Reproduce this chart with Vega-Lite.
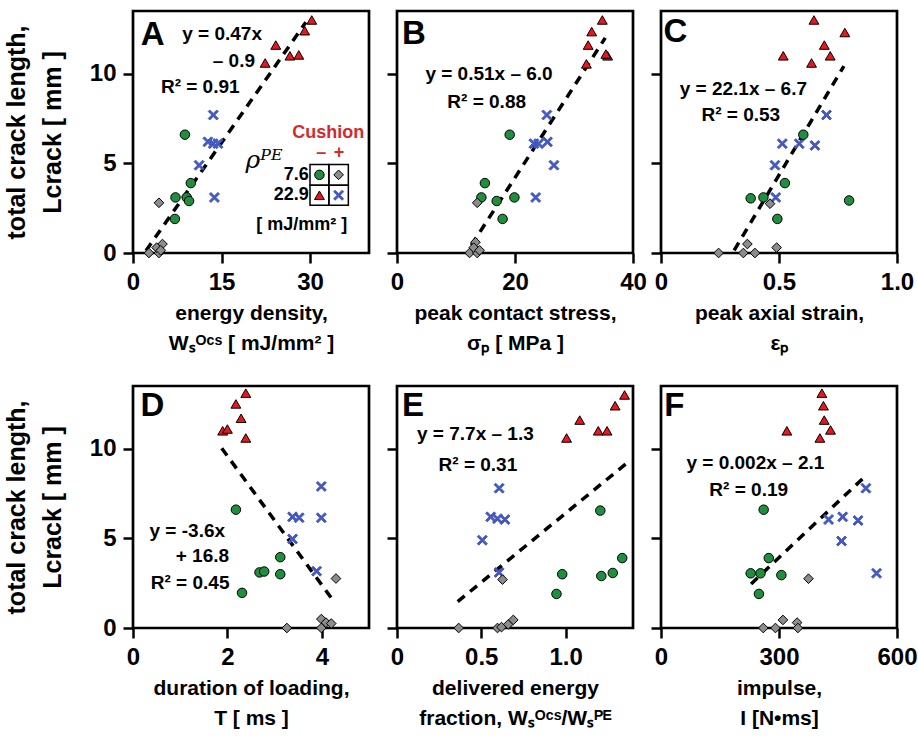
{
"$schema": "https://vega.github.io/schema/vega-lite/v6.json",
"background": "white",
"padding": {"left": 2, "top": 9, "right": 0, "bottom": 0},
"config": {
  "view": {"stroke": "black", "strokeWidth": 2.7},
  "axis": {"domain": false, "grid": false, "tickColor": "black", "tickWidth": 2.5, "tickSize": 10,
    "labelFont": "Liberation Sans", "labelFontWeight": "bold", "labelFontSize": 24, "labelColor": "black", "labelPadding": 7,
    "labelFlush": false, "labelOverlap": false,
    "titleFont": "Liberation Sans", "titleFontWeight": "bold", "titleFontSize": 21, "titleColor": "black"},
  "axisX": {"titleLineHeight": 30, "titlePadding": 8},
  "axisY": {"titleFontSize": 25, "titleLineHeight": 36, "titlePadding": 24},
  "text": {"font": "Liberation Sans", "fontWeight": "bold", "color": "black"}
},
"datasets": {
  "pts": [
    {"p":"A","g":"r","x":30.3,"L":13.0},{"p":"A","g":"r","x":29.1,"L":12.4},{"p":"A","g":"r","x":24.2,"L":11.6},{"p":"A","g":"r","x":26.6,"L":11.0},{"p":"A","g":"r","x":28.1,"L":11.05},{"p":"A","g":"r","x":22.4,"L":10.6},
    {"p":"A","g":"x","x":13.6,"L":7.7},{"p":"A","g":"x","x":12.7,"L":6.2},{"p":"A","g":"x","x":13.6,"L":6.1},{"p":"A","g":"x","x":14.4,"L":6.1},{"p":"A","g":"x","x":11.2,"L":4.9},{"p":"A","g":"x","x":13.8,"L":3.1},
    {"p":"A","g":"g","x":8.8,"L":6.6},{"p":"A","g":"g","x":9.8,"L":3.9},{"p":"A","g":"g","x":7.2,"L":3.1},{"p":"A","g":"g","x":9.1,"L":3.1},{"p":"A","g":"g","x":9.5,"L":2.9},{"p":"A","g":"g","x":7.1,"L":1.9},
    {"p":"A","g":"d","x":4.4,"L":2.8},{"p":"A","g":"d","x":2.7,"L":0},{"p":"A","g":"d","x":4.4,"L":0},{"p":"A","g":"d","x":5.0,"L":0.5},{"p":"A","g":"d","x":4.0,"L":0.3},{"p":"A","g":"d","x":4.7,"L":0.15},
    {"p":"B","g":"r","x":34.8,"L":13.0},{"p":"B","g":"r","x":33.0,"L":12.35},{"p":"B","g":"r","x":32.4,"L":11.6},{"p":"B","g":"r","x":35.7,"L":11.0},{"p":"B","g":"r","x":35.4,"L":11.1},{"p":"B","g":"r","x":32.1,"L":10.55},
    {"p":"B","g":"x","x":25.4,"L":7.7},{"p":"B","g":"x","x":23.2,"L":6.1},{"p":"B","g":"x","x":25.5,"L":6.2},{"p":"B","g":"x","x":24.0,"L":6.1},{"p":"B","g":"x","x":26.6,"L":4.9},{"p":"B","g":"x","x":23.5,"L":3.1},
    {"p":"B","g":"g","x":19.1,"L":6.6},{"p":"B","g":"g","x":14.9,"L":3.9},{"p":"B","g":"g","x":14.3,"L":3.1},{"p":"B","g":"g","x":16.9,"L":2.9},{"p":"B","g":"g","x":19.9,"L":3.1},{"p":"B","g":"g","x":17.9,"L":1.9},
    {"p":"B","g":"d","x":13.6,"L":2.8},{"p":"B","g":"d","x":12.3,"L":0},{"p":"B","g":"d","x":13.6,"L":0},{"p":"B","g":"d","x":13.3,"L":0.6},{"p":"B","g":"d","x":13.0,"L":0.3},{"p":"B","g":"d","x":14.0,"L":0.15},
    {"p":"C","g":"r","x":0.648,"L":13.0},{"p":"C","g":"r","x":0.779,"L":12.3},{"p":"C","g":"r","x":0.692,"L":11.6},{"p":"C","g":"r","x":0.717,"L":11.0},{"p":"C","g":"r","x":0.518,"L":11.0},{"p":"C","g":"r","x":0.638,"L":10.6},
    {"p":"C","g":"x","x":0.701,"L":7.7},{"p":"C","g":"x","x":0.514,"L":6.1},{"p":"C","g":"x","x":0.586,"L":6.1},{"p":"C","g":"x","x":0.652,"L":6.0},{"p":"C","g":"x","x":0.483,"L":4.9},{"p":"C","g":"x","x":0.486,"L":3.1},
    {"p":"C","g":"g","x":0.603,"L":6.6},{"p":"C","g":"g","x":0.525,"L":3.9},{"p":"C","g":"g","x":0.38,"L":3.05},{"p":"C","g":"g","x":0.434,"L":3.1},{"p":"C","g":"g","x":0.797,"L":2.93},{"p":"C","g":"g","x":0.493,"L":1.9},
    {"p":"C","g":"d","x":0.462,"L":2.75},{"p":"C","g":"d","x":0.244,"L":0},{"p":"C","g":"d","x":0.349,"L":0},{"p":"C","g":"d","x":0.366,"L":0.5},{"p":"C","g":"d","x":0.398,"L":0},{"p":"C","g":"d","x":0.49,"L":0.3},
    {"p":"D","g":"r","x":2.39,"L":13.1},{"p":"D","g":"r","x":2.18,"L":12.5},{"p":"D","g":"r","x":2.29,"L":11.7},{"p":"D","g":"r","x":1.9,"L":11.0},{"p":"D","g":"r","x":2.0,"L":11.1},{"p":"D","g":"r","x":2.39,"L":10.6},
    {"p":"D","g":"x","x":3.99,"L":7.9},{"p":"D","g":"x","x":3.38,"L":6.2},{"p":"D","g":"x","x":3.52,"L":6.15},{"p":"D","g":"x","x":3.99,"L":6.15},{"p":"D","g":"x","x":3.38,"L":4.97},{"p":"D","g":"x","x":3.89,"L":3.17},
    {"p":"D","g":"g","x":2.18,"L":6.6},{"p":"D","g":"g","x":3.12,"L":3.95},{"p":"D","g":"g","x":2.68,"L":3.1},{"p":"D","g":"g","x":2.78,"L":3.15},{"p":"D","g":"g","x":3.12,"L":3.0},{"p":"D","g":"g","x":2.31,"L":1.96},
    {"p":"D","g":"d","x":4.3,"L":2.76},{"p":"D","g":"d","x":3.26,"L":0},{"p":"D","g":"d","x":3.99,"L":0.5},{"p":"D","g":"d","x":3.99,"L":0},{"p":"D","g":"d","x":4.09,"L":0.3},{"p":"D","g":"d","x":4.2,"L":0.25},
    {"p":"E","g":"r","x":1.35,"L":13.0},{"p":"E","g":"r","x":1.294,"L":12.4},{"p":"E","g":"r","x":1.084,"L":11.6},{"p":"E","g":"r","x":1.194,"L":11.0},{"p":"E","g":"r","x":1.246,"L":11.0},{"p":"E","g":"r","x":1.006,"L":10.6},
    {"p":"E","g":"x","x":0.606,"L":7.8},{"p":"E","g":"x","x":0.556,"L":6.2},{"p":"E","g":"x","x":0.596,"L":6.1},{"p":"E","g":"x","x":0.64,"L":6.05},{"p":"E","g":"x","x":0.506,"L":4.9},{"p":"E","g":"x","x":0.606,"L":3.1},
    {"p":"E","g":"g","x":1.206,"L":6.55},{"p":"E","g":"g","x":1.336,"L":3.9},{"p":"E","g":"g","x":0.98,"L":3.0},{"p":"E","g":"g","x":1.212,"L":2.9},{"p":"E","g":"g","x":1.28,"L":3.07},{"p":"E","g":"g","x":0.946,"L":1.9},
    {"p":"E","g":"d","x":0.626,"L":2.7},{"p":"E","g":"d","x":0.366,"L":0},{"p":"E","g":"d","x":0.596,"L":0},{"p":"E","g":"d","x":0.62,"L":0.05},{"p":"E","g":"d","x":0.66,"L":0.2},{"p":"E","g":"d","x":0.69,"L":0.45},
    {"p":"F","g":"r","x":409,"L":13.1},{"p":"F","g":"r","x":413,"L":12.4},{"p":"F","g":"r","x":415,"L":11.6},{"p":"F","g":"r","x":431,"L":11.05},{"p":"F","g":"r","x":320,"L":11.0},{"p":"F","g":"r","x":404,"L":10.6},
    {"p":"F","g":"x","x":521,"L":7.8},{"p":"F","g":"x","x":426,"L":6.05},{"p":"F","g":"x","x":462,"L":6.2},{"p":"F","g":"x","x":501,"L":6.0},{"p":"F","g":"x","x":459,"L":4.85},{"p":"F","g":"x","x":548,"L":3.05},
    {"p":"F","g":"g","x":261,"L":6.6},{"p":"F","g":"g","x":274,"L":3.9},{"p":"F","g":"g","x":228,"L":3.05},{"p":"F","g":"g","x":253,"L":3.05},{"p":"F","g":"g","x":306,"L":2.95},{"p":"F","g":"g","x":249,"L":1.9},
    {"p":"F","g":"d","x":375,"L":2.75},{"p":"F","g":"d","x":260,"L":0},{"p":"F","g":"d","x":291,"L":0},{"p":"F","g":"d","x":310,"L":0.45},{"p":"F","g":"d","x":346,"L":0.3},{"p":"F","g":"d","x":348,"L":0}
  ],
  "fit": [
    {"p":"A","x":2.2,"L":0.13},{"p":"A","x":29.3,"L":12.87},
    {"p":"B","x":12.6,"L":0.43},{"p":"B","x":35.3,"L":12.0},
    {"p":"C","x":0.31,"L":0.15},{"p":"C","x":0.775,"L":10.43},
    {"p":"D","x":1.88,"L":10.03},{"p":"D","x":4.25,"L":1.5},
    {"p":"E","x":0.36,"L":1.47},{"p":"E","x":1.37,"L":9.25},
    {"p":"F","x":229,"L":2.46},{"p":"F","x":518,"L":8.44}
  ],
  "eq": [
    {"p":"A","x":15.1,"L":12.24,"t":"y = 0.47x"},{"p":"A","x":17.1,"L":10.7,"t":"– 0.9"},{"p":"A","x":11.4,"L":9.28,"t":"R² = 0.91"},
    {"p":"B","x":15.6,"L":9.98,"t":"y = 0.51x – 6.0"},{"p":"B","x":15.2,"L":8.44,"t":"R² = 0.88"},
    {"p":"C","x":0.349,"L":9.15,"t":"y = 22.1x – 6.7"},{"p":"C","x":0.338,"L":7.7,"t":"R² = 0.53"},
    {"p":"D","x":1.15,"L":5.4,"t":"y = -3.6x"},{"p":"D","x":1.47,"L":4.0,"t":"+ 16.8"},{"p":"D","x":1.21,"L":2.51,"t":"R² = 0.45"},
    {"p":"E","x":0.465,"L":10.85,"t":"y = 7.7x – 1.3"},{"p":"E","x":0.48,"L":9.07,"t":"R² = 0.31"},
    {"p":"F","x":240,"L":9.22,"t":"y = 0.002x – 2.1"},{"p":"F","x":223,"L":7.69,"t":"R² = 0.19"}
  ],
  "letter": [
    {"p":"A","x":1.3,"L":11.6,"t":"A"},{"p":"B","x":0.86,"L":11.68,"t":"B"},{"p":"C","x":0.011,"L":11.78,"t":"C"},
    {"p":"D","x":0.157,"L":11.82,"t":"D"},{"p":"E","x":0.03,"L":11.82,"t":"E"},{"p":"F","x":8.3,"L":11.82,"t":"F"}
  ]
},
"bounds": "flush",
"columns": 3,
"spacing": {"row": 133, "column": 28},
"concat": [
  {"width": 236, "height": 242,
   "encoding": {
     "x": {"field": "x", "type": "quantitative", "scale": {"domain": [0, 40], "nice": false, "zero": false}, "axis": {"values": [0, 15, 30], "title": ["energy density,", "Wₛᴼᶜˢ [ mJ/mm² ]"]}},
     "y": {"field": "L", "type": "quantitative", "scale": {"domain": [0, 13.5], "nice": false}, "axis": {"values": [0, 5, 10], "title": ["total crack length,", "Lcrack [ mm ]"]}}
   },
   "layer": [
     {"data": {"name": "fit"}, "transform": [{"filter": "datum.p === 'A'"}], "mark": {"type": "line", "color": "black", "strokeWidth": 3.5, "strokeDash": [9, 7]}, "encoding": {}},
     {"data": {"name": "pts"}, "transform": [{"filter": "datum.p === 'A'"}], "mark": {"type": "point", "filled": true, "opacity": 1, "strokeWidth": 1},
      "encoding": {
        "shape": {"field": "g", "type": "nominal", "legend": null, "scale": {"domain": ["g", "d", "r", "x"], "range": ["circle", "diamond", "triangle-up", "M-1,-0.7L-0.7,-1L0,-0.3L0.7,-1L1,-0.7L0.3,0L1,0.7L0.7,1L0,0.3L-0.7,1L-1,0.7L-0.3,0Z"]}},
        "fill": {"field": "g", "type": "nominal", "legend": null, "scale": {"domain": ["g", "d", "r", "x"], "range": ["#1f8f3f", "#8c8c8c", "#e8161e", "#4458c2"]}},
        "stroke": {"field": "g", "type": "nominal", "legend": null, "scale": {"domain": ["g", "d", "r", "x"], "range": ["#000000", "#000000", "#000000", "#4458c2"]}},
        "size": {"field": "g", "type": "ordinal", "legend": null, "scale": {"domain": ["g", "d", "r", "x"], "range": [90, 100, 120, 105]}}
      }},
     {"data": {"name": "eq"}, "transform": [{"filter": "datum.p === 'A'"}], "mark": {"type": "text", "fontSize": 19, "align": "center", "baseline": "middle"}, "encoding": {"text": {"field": "t", "type": "nominal"}}},
     {"data": {"name": "letter"}, "transform": [{"filter": "datum.p === 'A'"}], "mark": {"type": "text", "fontSize": 33, "align": "left", "baseline": "alphabetic"}, "encoding": {"text": {"field": "t", "type": "nominal"}}},
     {"data": {"values": [{"x":30.0,"x2":33.2,"L":3.78,"L2":4.94},{"x":33.2,"x2":36.5,"L":3.78,"L2":4.94},{"x":30.0,"x2":33.2,"L":2.67,"L2":3.78},{"x":33.2,"x2":36.5,"L":2.67,"L2":3.78}]},
      "mark": {"type": "rect", "fill": "transparent", "stroke": "black", "strokeWidth": 1.5},
      "encoding": {"x2": {"field": "x2"}, "y2": {"field": "L2"}}},
     {"data": {"values": [{"g":"g","x":31.6,"L":4.36},{"g":"d","x":34.85,"L":4.36},{"g":"r","x":31.6,"L":3.22},{"g":"x","x":34.85,"L":3.22}]},
      "mark": {"type": "point", "filled": true, "opacity": 1, "strokeWidth": 1},
      "encoding": {
        "shape": {"field": "g", "type": "nominal", "legend": null, "scale": {"domain": ["g", "d", "r", "x"], "range": ["circle", "diamond", "triangle-up", "M-1,-0.7L-0.7,-1L0,-0.3L0.7,-1L1,-0.7L0.3,0L1,0.7L0.7,1L0,0.3L-0.7,1L-1,0.7L-0.3,0Z"]}},
        "fill": {"field": "g", "type": "nominal", "legend": null, "scale": {"domain": ["g", "d", "r", "x"], "range": ["#1f8f3f", "#8c8c8c", "#e8161e", "#4458c2"]}},
        "stroke": {"field": "g", "type": "nominal", "legend": null, "scale": {"domain": ["g", "d", "r", "x"], "range": ["#000000", "#000000", "#000000", "#4458c2"]}},
        "size": {"field": "g", "type": "ordinal", "legend": null, "scale": {"domain": ["g", "d", "r", "x"], "range": [90, 100, 120, 105]}}
      }},
     {"data": {"values": [{"x":33.1,"L":6.67,"t":"Cushion"},{"x":31.9,"L":5.6,"t":"–"},{"x":34.9,"L":5.6,"t":"+"}]},
      "mark": {"type": "text", "fontSize": 18, "color": "#d42a2a", "align": "center", "baseline": "middle"}, "encoding": {"text": {"field": "t", "type": "nominal"}}},
     {"data": {"values": [{"x":29.8,"L":4.36,"t":"7.6"},{"x":29.8,"L":3.22,"t":"22.9"}]},
      "mark": {"type": "text", "fontSize": 18, "align": "right", "baseline": "middle"}, "encoding": {"text": {"field": "t", "type": "nominal"}}},
     {"data": {"values": [{"x":28.6,"L":1.56,"t":"[ mJ/mm² ]"}]},
      "mark": {"type": "text", "fontSize": 18, "align": "center", "baseline": "middle"}, "encoding": {"text": {"field": "t", "type": "nominal"}}},
     {"data": {"values": [{"x":22.2,"L":5.17,"t":"ρᴾᴱ"}]},
      "mark": {"type": "text", "font": "DejaVu Serif", "fontStyle": "italic", "fontWeight": "normal", "fontSize": 25, "align": "center", "baseline": "middle"}, "encoding": {"text": {"field": "t", "type": "nominal"}}}
   ]},
  {"width": 236, "height": 242,
   "encoding": {
     "x": {"field": "x", "type": "quantitative", "scale": {"domain": [0, 40], "nice": false, "zero": false}, "axis": {"values": [0, 20, 40], "title": ["peak contact stress,", "σₚ [ MPa ]"]}},
     "y": {"field": "L", "type": "quantitative", "scale": {"domain": [0, 13.5], "nice": false}, "axis": {"values": [0, 5, 10], "labels": false, "title": null}}
   },
   "layer": [
     {"data": {"name": "fit"}, "transform": [{"filter": "datum.p === 'B'"}], "mark": {"type": "line", "color": "black", "strokeWidth": 3.5, "strokeDash": [9, 7]}, "encoding": {}},
     {"data": {"name": "pts"}, "transform": [{"filter": "datum.p === 'B'"}], "mark": {"type": "point", "filled": true, "opacity": 1, "strokeWidth": 1},
      "encoding": {
        "shape": {"field": "g", "type": "nominal", "legend": null, "scale": {"domain": ["g", "d", "r", "x"], "range": ["circle", "diamond", "triangle-up", "M-1,-0.7L-0.7,-1L0,-0.3L0.7,-1L1,-0.7L0.3,0L1,0.7L0.7,1L0,0.3L-0.7,1L-1,0.7L-0.3,0Z"]}},
        "fill": {"field": "g", "type": "nominal", "legend": null, "scale": {"domain": ["g", "d", "r", "x"], "range": ["#1f8f3f", "#8c8c8c", "#e8161e", "#4458c2"]}},
        "stroke": {"field": "g", "type": "nominal", "legend": null, "scale": {"domain": ["g", "d", "r", "x"], "range": ["#000000", "#000000", "#000000", "#4458c2"]}},
        "size": {"field": "g", "type": "ordinal", "legend": null, "scale": {"domain": ["g", "d", "r", "x"], "range": [90, 100, 120, 105]}}
      }},
     {"data": {"name": "eq"}, "transform": [{"filter": "datum.p === 'B'"}], "mark": {"type": "text", "fontSize": 19, "align": "center", "baseline": "middle"}, "encoding": {"text": {"field": "t", "type": "nominal"}}},
     {"data": {"name": "letter"}, "transform": [{"filter": "datum.p === 'B'"}], "mark": {"type": "text", "fontSize": 33, "align": "left", "baseline": "alphabetic"}, "encoding": {"text": {"field": "t", "type": "nominal"}}}
   ]},
  {"width": 236, "height": 242,
   "encoding": {
     "x": {"field": "x", "type": "quantitative", "scale": {"domain": [0, 1], "nice": false, "zero": false}, "axis": {"values": [0, 0.5, 1], "labelExpr": "datum.value === 0 ? '0' : format(datum.value, '.1f')", "title": ["peak axial strain,", "εₚ"]}},
     "y": {"field": "L", "type": "quantitative", "scale": {"domain": [0, 13.5], "nice": false}, "axis": {"values": [0, 5, 10], "labels": false, "title": null}}
   },
   "layer": [
     {"data": {"name": "fit"}, "transform": [{"filter": "datum.p === 'C'"}], "mark": {"type": "line", "color": "black", "strokeWidth": 3.5, "strokeDash": [9, 7]}, "encoding": {}},
     {"data": {"name": "pts"}, "transform": [{"filter": "datum.p === 'C'"}], "mark": {"type": "point", "filled": true, "opacity": 1, "strokeWidth": 1},
      "encoding": {
        "shape": {"field": "g", "type": "nominal", "legend": null, "scale": {"domain": ["g", "d", "r", "x"], "range": ["circle", "diamond", "triangle-up", "M-1,-0.7L-0.7,-1L0,-0.3L0.7,-1L1,-0.7L0.3,0L1,0.7L0.7,1L0,0.3L-0.7,1L-1,0.7L-0.3,0Z"]}},
        "fill": {"field": "g", "type": "nominal", "legend": null, "scale": {"domain": ["g", "d", "r", "x"], "range": ["#1f8f3f", "#8c8c8c", "#e8161e", "#4458c2"]}},
        "stroke": {"field": "g", "type": "nominal", "legend": null, "scale": {"domain": ["g", "d", "r", "x"], "range": ["#000000", "#000000", "#000000", "#4458c2"]}},
        "size": {"field": "g", "type": "ordinal", "legend": null, "scale": {"domain": ["g", "d", "r", "x"], "range": [90, 100, 120, 105]}}
      }},
     {"data": {"name": "eq"}, "transform": [{"filter": "datum.p === 'C'"}], "mark": {"type": "text", "fontSize": 19, "align": "center", "baseline": "middle"}, "encoding": {"text": {"field": "t", "type": "nominal"}}},
     {"data": {"name": "letter"}, "transform": [{"filter": "datum.p === 'C'"}], "mark": {"type": "text", "fontSize": 33, "align": "left", "baseline": "alphabetic"}, "encoding": {"text": {"field": "t", "type": "nominal"}}}
   ]},
  {"width": 236, "height": 242,
   "encoding": {
     "x": {"field": "x", "type": "quantitative", "scale": {"domain": [0, 5], "nice": false, "zero": false}, "axis": {"values": [0, 2, 4], "title": ["duration of loading,", "T [ ms ]"]}},
     "y": {"field": "L", "type": "quantitative", "scale": {"domain": [0, 13.5], "nice": false}, "axis": {"values": [0, 5, 10], "title": ["total crack length,", "Lcrack [ mm ]"]}}
   },
   "layer": [
     {"data": {"name": "fit"}, "transform": [{"filter": "datum.p === 'D'"}], "mark": {"type": "line", "color": "black", "strokeWidth": 3.5, "strokeDash": [9, 7]}, "encoding": {}},
     {"data": {"name": "pts"}, "transform": [{"filter": "datum.p === 'D'"}], "mark": {"type": "point", "filled": true, "opacity": 1, "strokeWidth": 1},
      "encoding": {
        "shape": {"field": "g", "type": "nominal", "legend": null, "scale": {"domain": ["g", "d", "r", "x"], "range": ["circle", "diamond", "triangle-up", "M-1,-0.7L-0.7,-1L0,-0.3L0.7,-1L1,-0.7L0.3,0L1,0.7L0.7,1L0,0.3L-0.7,1L-1,0.7L-0.3,0Z"]}},
        "fill": {"field": "g", "type": "nominal", "legend": null, "scale": {"domain": ["g", "d", "r", "x"], "range": ["#1f8f3f", "#8c8c8c", "#e8161e", "#4458c2"]}},
        "stroke": {"field": "g", "type": "nominal", "legend": null, "scale": {"domain": ["g", "d", "r", "x"], "range": ["#000000", "#000000", "#000000", "#4458c2"]}},
        "size": {"field": "g", "type": "ordinal", "legend": null, "scale": {"domain": ["g", "d", "r", "x"], "range": [90, 100, 120, 105]}}
      }},
     {"data": {"name": "eq"}, "transform": [{"filter": "datum.p === 'D'"}], "mark": {"type": "text", "fontSize": 19, "align": "center", "baseline": "middle"}, "encoding": {"text": {"field": "t", "type": "nominal"}}},
     {"data": {"name": "letter"}, "transform": [{"filter": "datum.p === 'D'"}], "mark": {"type": "text", "fontSize": 33, "align": "left", "baseline": "alphabetic"}, "encoding": {"text": {"field": "t", "type": "nominal"}}}
   ]},
  {"width": 236, "height": 242,
   "encoding": {
     "x": {"field": "x", "type": "quantitative", "scale": {"domain": [0, 1.4], "nice": false, "zero": false}, "axis": {"values": [0, 0.5, 1], "labelExpr": "datum.value === 0 ? '0' : format(datum.value, '.1f')", "title": ["delivered energy", "fraction, Wₛᴼᶜˢ/Wₛᴾᴱ"]}},
     "y": {"field": "L", "type": "quantitative", "scale": {"domain": [0, 13.5], "nice": false}, "axis": {"values": [0, 5, 10], "labels": false, "title": null}}
   },
   "layer": [
     {"data": {"name": "fit"}, "transform": [{"filter": "datum.p === 'E'"}], "mark": {"type": "line", "color": "black", "strokeWidth": 3.5, "strokeDash": [9, 7]}, "encoding": {}},
     {"data": {"name": "pts"}, "transform": [{"filter": "datum.p === 'E'"}], "mark": {"type": "point", "filled": true, "opacity": 1, "strokeWidth": 1},
      "encoding": {
        "shape": {"field": "g", "type": "nominal", "legend": null, "scale": {"domain": ["g", "d", "r", "x"], "range": ["circle", "diamond", "triangle-up", "M-1,-0.7L-0.7,-1L0,-0.3L0.7,-1L1,-0.7L0.3,0L1,0.7L0.7,1L0,0.3L-0.7,1L-1,0.7L-0.3,0Z"]}},
        "fill": {"field": "g", "type": "nominal", "legend": null, "scale": {"domain": ["g", "d", "r", "x"], "range": ["#1f8f3f", "#8c8c8c", "#e8161e", "#4458c2"]}},
        "stroke": {"field": "g", "type": "nominal", "legend": null, "scale": {"domain": ["g", "d", "r", "x"], "range": ["#000000", "#000000", "#000000", "#4458c2"]}},
        "size": {"field": "g", "type": "ordinal", "legend": null, "scale": {"domain": ["g", "d", "r", "x"], "range": [90, 100, 120, 105]}}
      }},
     {"data": {"name": "eq"}, "transform": [{"filter": "datum.p === 'E'"}], "mark": {"type": "text", "fontSize": 19, "align": "center", "baseline": "middle"}, "encoding": {"text": {"field": "t", "type": "nominal"}}},
     {"data": {"name": "letter"}, "transform": [{"filter": "datum.p === 'E'"}], "mark": {"type": "text", "fontSize": 33, "align": "left", "baseline": "alphabetic"}, "encoding": {"text": {"field": "t", "type": "nominal"}}}
   ]},
  {"width": 236, "height": 242,
   "encoding": {
     "x": {"field": "x", "type": "quantitative", "scale": {"domain": [0, 600], "nice": false, "zero": false}, "axis": {"values": [0, 300, 600], "title": ["impulse,", "I [N•ms]"]}},
     "y": {"field": "L", "type": "quantitative", "scale": {"domain": [0, 13.5], "nice": false}, "axis": {"values": [0, 5, 10], "labels": false, "title": null}}
   },
   "layer": [
     {"data": {"name": "fit"}, "transform": [{"filter": "datum.p === 'F'"}], "mark": {"type": "line", "color": "black", "strokeWidth": 3.5, "strokeDash": [9, 7]}, "encoding": {}},
     {"data": {"name": "pts"}, "transform": [{"filter": "datum.p === 'F'"}], "mark": {"type": "point", "filled": true, "opacity": 1, "strokeWidth": 1},
      "encoding": {
        "shape": {"field": "g", "type": "nominal", "legend": null, "scale": {"domain": ["g", "d", "r", "x"], "range": ["circle", "diamond", "triangle-up", "M-1,-0.7L-0.7,-1L0,-0.3L0.7,-1L1,-0.7L0.3,0L1,0.7L0.7,1L0,0.3L-0.7,1L-1,0.7L-0.3,0Z"]}},
        "fill": {"field": "g", "type": "nominal", "legend": null, "scale": {"domain": ["g", "d", "r", "x"], "range": ["#1f8f3f", "#8c8c8c", "#e8161e", "#4458c2"]}},
        "stroke": {"field": "g", "type": "nominal", "legend": null, "scale": {"domain": ["g", "d", "r", "x"], "range": ["#000000", "#000000", "#000000", "#4458c2"]}},
        "size": {"field": "g", "type": "ordinal", "legend": null, "scale": {"domain": ["g", "d", "r", "x"], "range": [90, 100, 120, 105]}}
      }},
     {"data": {"name": "eq"}, "transform": [{"filter": "datum.p === 'F'"}], "mark": {"type": "text", "fontSize": 19, "align": "center", "baseline": "middle"}, "encoding": {"text": {"field": "t", "type": "nominal"}}},
     {"data": {"name": "letter"}, "transform": [{"filter": "datum.p === 'F'"}], "mark": {"type": "text", "fontSize": 33, "align": "left", "baseline": "alphabetic"}, "encoding": {"text": {"field": "t", "type": "nominal"}}}
   ]}
]
}
